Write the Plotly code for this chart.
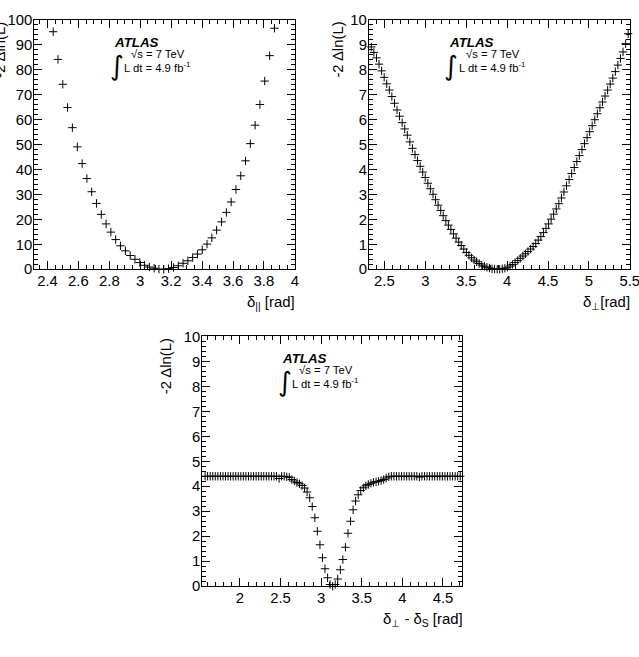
import plotly.graph_objects as go

# page geometry: the picture shows the page with an 8px offset and a 0.975 scale
OFF = 8.0
SC = 0.975
W, H = 647, 665

# ---------------- data ----------------
p1_x = [2.437, 2.468, 2.499, 2.530, 2.561, 2.593, 2.624, 2.655, 2.686, 2.717,
        2.748, 2.779, 2.810, 2.841, 2.872, 2.904, 2.935, 2.966, 2.997, 3.028,
        3.059, 3.090, 3.121, 3.152, 3.183, 3.215, 3.246, 3.277, 3.308, 3.339,
        3.370, 3.401, 3.432, 3.463, 3.494, 3.526, 3.557, 3.588, 3.619, 3.650,
        3.681, 3.712, 3.743, 3.774, 3.805, 3.837, 3.868]
p1_y = [95.3, 84.2, 74.2, 64.9, 56.8, 49.1, 42.4, 36.4, 31.1, 26.4,
        22.0, 18.2, 14.9, 11.9, 9.4, 7.4, 5.5, 4.0, 2.7, 1.6,
        0.9, 0.4, 0.05, 0.0, 0.25, 0.7, 1.4, 2.4, 3.4, 4.7,
        6.1, 7.8, 10.1, 12.6, 15.7, 19.0, 22.8, 27.0, 32.0, 37.5,
        43.5, 50.4, 57.8, 66.1, 75.5, 85.7, 96.7]

p2_x = [2.340, 2.371, 2.403, 2.434, 2.466, 2.497, 2.528, 2.560, 2.591, 2.623,
        2.654, 2.685, 2.717, 2.748, 2.780, 2.811, 2.842, 2.874, 2.905, 2.937,
        2.968, 2.999, 3.031, 3.062, 3.094, 3.125, 3.156, 3.188, 3.219, 3.251,
        3.282, 3.313, 3.345, 3.376, 3.408, 3.439, 3.470, 3.502, 3.533, 3.565,
        3.596, 3.627, 3.659, 3.690, 3.722, 3.753, 3.784, 3.816, 3.847, 3.879,
        3.910, 3.941, 3.973, 4.004, 4.036, 4.067, 4.098, 4.130, 4.161, 4.193,
        4.224, 4.255, 4.287, 4.318, 4.350, 4.381, 4.412, 4.444, 4.475, 4.507,
        4.538, 4.569, 4.601, 4.632, 4.664, 4.695, 4.726, 4.758, 4.789, 4.821,
        4.852, 4.883, 4.915, 4.946, 4.978, 5.009, 5.040, 5.072, 5.103, 5.135,
        5.166, 5.197, 5.229, 5.260, 5.292, 5.323, 5.354, 5.386, 5.417, 5.449,
        5.480]
p2_y = [8.92, 8.70, 8.48, 8.23, 7.96, 7.70, 7.44, 7.19, 6.93, 6.66,
        6.39, 6.14, 5.88, 5.63, 5.38, 5.11, 4.85, 4.60, 4.36, 4.13,
        3.90, 3.68, 3.45, 3.23, 3.01, 2.79, 2.57, 2.36, 2.15, 1.95,
        1.77, 1.60, 1.42, 1.25, 1.09, 0.95, 0.81, 0.67, 0.56, 0.46,
        0.37, 0.30, 0.23, 0.17, 0.12, 0.08, 0.05, 0.02, 0.01, 0.00,
        0.00, 0.02, 0.04, 0.08, 0.13, 0.19, 0.27, 0.35, 0.44, 0.53,
        0.62, 0.71, 0.81, 0.91, 1.03, 1.17, 1.31, 1.47, 1.64, 1.82,
        2.01, 2.21, 2.42, 2.63, 2.86, 3.10, 3.35, 3.60, 3.84, 4.08,
        4.32, 4.56, 4.80, 5.04, 5.28, 5.52, 5.76, 6.00, 6.24, 6.48,
        6.71, 6.95, 7.19, 7.43, 7.67, 7.93, 8.19, 8.46, 8.72, 9.05,
        9.45]

p3_x = [1.571, 1.602, 1.634, 1.665, 1.696, 1.728, 1.759, 1.791, 1.822, 1.854,
        1.885, 1.916, 1.948, 1.979, 2.011, 2.042, 2.073, 2.105, 2.136, 2.168,
        2.199, 2.231, 2.262, 2.293, 2.325, 2.356, 2.388, 2.419, 2.450, 2.482,
        2.513, 2.545, 2.576, 2.608, 2.639, 2.670, 2.702, 2.733, 2.765, 2.796,
        2.827, 2.859, 2.890, 2.922, 2.953, 2.985, 3.016, 3.047, 3.079, 3.110,
        3.142, 3.173, 3.204, 3.236, 3.267, 3.299, 3.330, 3.362, 3.393, 3.424,
        3.456, 3.487, 3.519, 3.550, 3.581, 3.613, 3.644, 3.676, 3.707, 3.738,
        3.770, 3.801, 3.833, 3.864, 3.896, 3.927, 3.958, 3.990, 4.021, 4.053,
        4.084, 4.115, 4.147, 4.178, 4.210, 4.241, 4.273, 4.304, 4.335, 4.367,
        4.398, 4.430, 4.461, 4.492, 4.524, 4.555, 4.587, 4.618, 4.650, 4.681,
        4.712]
p3_y = [4.40, 4.40, 4.40, 4.40, 4.40, 4.40, 4.40, 4.40, 4.40, 4.40,
        4.40, 4.40, 4.40, 4.40, 4.40, 4.40, 4.40, 4.40, 4.40, 4.40,
        4.40, 4.40, 4.40, 4.40, 4.40, 4.40, 4.40, 4.40, 4.40, 4.31,
        4.40, 4.40, 4.38, 4.36, 4.27, 4.21, 4.15, 4.10, 4.03, 3.93,
        3.77, 3.54, 3.19, 2.74, 2.20, 1.66, 1.14, 0.70, 0.34, 0.07,
        0.00, 0.07, 0.29, 0.66, 1.07, 1.56, 2.12, 2.60, 3.06, 3.41,
        3.66, 3.83, 3.94, 4.02, 4.07, 4.12, 4.16, 4.18, 4.20, 4.23,
        4.27, 4.33, 4.38, 4.40, 4.40, 4.40, 4.40, 4.40, 4.40, 4.40,
        4.40, 4.40, 4.40, 4.40, 4.37, 4.40, 4.40, 4.40, 4.40, 4.40,
        4.40, 4.40, 4.40, 4.40, 4.40, 4.40, 4.40, 4.40, 4.40, 4.40,
        4.40]

y_title = "-2 \u0394ln(L)"
x_titles = ["\u03b4<sub>||</sub> [rad]", "\u03b4<sub>\u22a5</sub>[rad]",
            "\u03b4<sub>\u22a5</sub> - \u03b4<sub>S</sub> [rad]"]

# ---------------- layout helpers ----------------
FONT = "Liberation Sans, Arial, Helvetica, sans-serif"

def clamp(v):
    return max(0.0, min(1.0, v))

def px2x(px):
    return clamp(((px - OFF) / SC) / W)

def px2y(py):
    return clamp(1 - ((py - OFF) / SC) / H)

def fs(v):
    return v / SC

# frames in reference pixels: (left, top, right, bottom)
frames = [(42, 20, 300, 269), (373.3, 20, 631.7, 269), (208.3, 336, 466, 585.7)]
xranges = [[2.315, 4.0], [2.31, 5.5], [1.536, 4.74]]
yranges = [[0, 100], [0, 10], [0, 10]]
xdt = [(0.2, 0.05), (0.5, 0.1), (0.5, 0.1)]
ydt = [(10, 2), (1, 0.2), (1, 0.2)]
ytitle_dx = [37, 31, 36]

fig = go.Figure()
data = [(p1_x, p1_y), (p2_x, p2_y), (p3_x, p3_y)]
for i, (xs, ys) in enumerate(data):
    sfx = "" if i == 0 else str(i + 1)
    fig.add_trace(go.Scatter(
        x=xs, y=ys, mode="markers", xaxis="x" + sfx, yaxis="y" + sfx,
        marker=dict(symbol="cross-thin", size=6, color="black",
                    line=dict(color="black", width=1)),
        cliponaxis=False, showlegend=False, hoverinfo="x+y"))

layout = dict(width=W, height=H, margin=dict(l=0, r=0, t=0, b=0),
              paper_bgcolor="white", plot_bgcolor="white", showlegend=False,
              font=dict(family=FONT, size=fs(14.5), color="black"))
annotations = []
for i in range(3):
    L, T, R, B = frames[i]
    sfx = "" if i == 0 else str(i + 1)
    common = dict(showline=True, linecolor="black", linewidth=1, mirror="ticks",
                  ticks="inside", ticklen=8, tickwidth=1, tickcolor="black",
                  showgrid=False, zeroline=False,
                  tickfont=dict(family=FONT, size=fs(14.5), color="black"))
    layout["xaxis" + sfx] = dict(
        common, domain=[px2x(L), px2x(R)], range=xranges[i],
        anchor="y" + sfx, tick0=0, dtick=xdt[i][0], ticklabelstandoff=-2,
        minor=dict(ticks="inside", ticklen=4, dtick=xdt[i][1], tick0=0,
                   tickcolor="black", showgrid=False))
    layout["yaxis" + sfx] = dict(
        common, domain=[px2y(B), px2y(T)], range=yranges[i],
        anchor="x" + sfx, tick0=0, dtick=ydt[i][0], ticklabelstandoff=-2,
        minor=dict(ticks="inside", ticklen=4, dtick=ydt[i][1], tick0=0,
                   tickcolor="black", showgrid=False))
    # y title
    annotations.append(dict(text=y_title, xref="paper", yref="paper",
                            x=px2x(L - ytitle_dx[i]), y=px2y(T), xanchor="center", yanchor="top",
                            textangle=-90, showarrow=False,
                            font=dict(family=FONT, size=fs(14.5), color="black")))
    # x title
    annotations.append(dict(text=x_titles[i], xref="paper", yref="paper",
                            x=px2x(R + 2), y=px2y(B + 34), xanchor="right", yanchor="middle",
                            showarrow=False, font=dict(family=FONT, size=fs(14.5), color="black")))
    # ATLAS label
    annotations.append(dict(text="<b><i>ATLAS</i></b>", xref="paper", yref="paper",
                            x=px2x(L + 77), y=px2y(T + 22), xanchor="left", yanchor="middle",
                            showarrow=False, font=dict(family=FONT, size=fs(13), color="black")))
    annotations.append(dict(text="\u221as = 7 TeV", xref="paper", yref="paper",
                            x=px2x(L + 94), y=px2y(T + 34), xanchor="left", yanchor="middle",
                            showarrow=False, font=dict(family=FONT, size=fs(11), color="black")))
    annotations.append(dict(text="L dt = 4.9 fb<sup>-1</sup>", xref="paper", yref="paper",
                            x=px2x(L + 87), y=px2y(T + 47), xanchor="left", yanchor="middle",
                            showarrow=False, font=dict(family=FONT, size=fs(11), color="black")))
    annotations.append(dict(text="\u222b", xref="paper", yref="paper",
                            x=px2x(L + 81.5), y=px2y(T + 45.5), xanchor="center", yanchor="middle",
                            showarrow=False, font=dict(family="DejaVu Sans", size=fs(26), color="black")))

layout["annotations"] = annotations
fig.update_layout(**layout)
fig.write_html("out.html")
